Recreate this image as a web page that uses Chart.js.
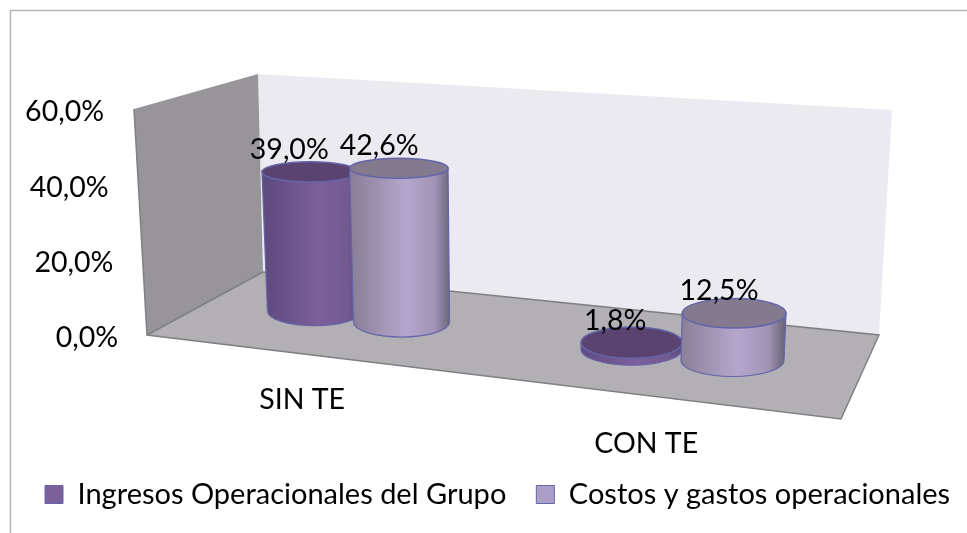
<!DOCTYPE html>
<html>
<head>
<meta charset="utf-8">
<style>
  html, body { margin: 0; padding: 0; background: #fff; }
  canvas { display: block; }
</style>
<script src="https://cdn.jsdelivr.net/npm/chart.js@4/dist/chart.umd.js"></script>
</head>
<body>
<canvas id="chart" width="967" height="533"></canvas>
<script>
const categories = ['SIN TE', 'CON TE'];
const seriesNames = ['Ingresos Operacionales del Grupo', 'Costos y gastos operacionales'];
const ingresos = [39.0, 1.8];
const costos = [42.6, 12.5];
const tickValues = [0, 20, 40, 60];

const FONT = 'Lato, Carlito, Calibri, sans-serif';

// top, side and stroke colours of each cylinder
const looks = [
  { top: '#5a4370', edge: '#5f4b80', mid: '#7d5f9c', near: '#725990', end: '#5e4a7c', line: '#6464a8' },
  { top: '#847a90', edge: '#8b8099', mid: '#b5a7cc', near: '#a093b5', end: '#6d6679', line: '#6464a8' },
];

const fmt = (v) => v.toFixed(1).replace('.', ',') + '%';

// the fake 3D view: the floor tilts down to the right, verticals lean away from the centre
const floorShift = (x) => (x - 539) * 0.118;
const heightScale = (x) => 0.91 + 0.00012 * x;
const lean = (x, h) => h * (x - 513) * 0.000158;
const widthScale = (x) => 0.97 + 0.00022 * (x - 310);
const ellipseRy = (y) => 10 + (y - 170) * 0.033;
// the two series drift apart a little towards the right side of the floor
const seriesDrift = (x, d) => (d === 0 ? -1 : 1) * (x - 495) * 0.0215;

function poly(ctx, pts, fill) {
  ctx.beginPath();
  pts.forEach((p, i) => (i ? ctx.lineTo(p[0], p[1]) : ctx.moveTo(p[0], p[1])));
  ctx.closePath();
  ctx.fillStyle = fill;
  ctx.fill();
}

function drawRoom(ctx) {
  // chart frame, only top and left are visible
  ctx.strokeStyle = '#b4b4b4';
  ctx.lineWidth = 1.5;
  ctx.beginPath();
  ctx.moveTo(10.5, 533);
  ctx.lineTo(10.5, 10.5);
  ctx.lineTo(967, 10.5);
  ctx.stroke();

  poly(ctx, [[258, 74], [892, 110], [879, 335], [263, 272]], '#eceaf1');
  poly(ctx, [[134, 109], [258, 74], [263, 272], [147, 335]], '#979599');
  poly(ctx, [[147, 335], [263, 272], [879, 335], [841, 419]], '#b3b0b5');

  ctx.strokeStyle = '#808080';
  ctx.lineWidth = 1.5;
  ctx.beginPath();
  ctx.moveTo(134, 109);
  ctx.lineTo(147, 335);
  ctx.lineTo(841, 419);
  ctx.lineTo(879, 335);
  ctx.lineTo(263, 272);
  ctx.moveTo(147, 335);
  ctx.lineTo(263, 272);
  ctx.stroke();
}

function drawCylinder(ctx, el, y0, look, d) {
  const half = (el.width * widthScale(el.x)) / 2;
  const cx = el.x + seriesDrift(el.x, d);
  const baseY = y0 + floorShift(el.x);
  const h = (el.base - el.y) * heightScale(el.x);
  const topY = baseY - h;
  const baseL = cx - half;
  const baseR = cx + half;
  const topL = baseL + lean(baseL, h);
  const topR = baseR + lean(baseR, h);
  const topX = (topL + topR) / 2;
  const topHalf = (topR - topL) / 2;
  const ryTop = ellipseRy(topY);
  const ryBase = ellipseRy(baseY);

  const grad = ctx.createLinearGradient(baseL, 0, baseR, 0);
  grad.addColorStop(0, look.edge);
  grad.addColorStop(0.55, look.mid);
  grad.addColorStop(0.85, look.near);
  grad.addColorStop(1, look.end);

  ctx.beginPath();
  ctx.moveTo(topL, topY);
  ctx.lineTo(baseL, baseY);
  ctx.ellipse(cx, baseY, half, ryBase, 0, Math.PI, 0, true);
  ctx.lineTo(topR, topY);
  ctx.closePath();
  ctx.fillStyle = grad;
  ctx.fill();
  ctx.strokeStyle = look.line;
  ctx.lineWidth = 1.2;
  ctx.stroke();

  ctx.beginPath();
  ctx.ellipse(topX, topY, topHalf, ryTop, 0, 0, Math.PI * 2);
  ctx.fillStyle = look.top;
  ctx.fill();
  ctx.lineWidth = 1.5;
  ctx.stroke();

  return { x: topX, y: topY };
}

const view3d = {
  id: 'view3d',
  afterLayout(chart) {
    // legend sits under the whole picture, not under the plot
    chart.legend.left = 15;
    chart.legend.right = 1100;
    chart.legend.top = 450;
  },
  beforeDatasetsDraw(chart) {
    const ctx = chart.ctx;
    const yScale = chart.scales.y;
    const xScale = chart.scales.x;
    const y0 = yScale.getPixelForValue(0);

    ctx.save();
    drawRoom(ctx);

    const tops = [];
    chart.data.datasets.forEach((ds, d) => {
      chart.getDatasetMeta(d).data.forEach((el, i) => {
        tops.push({ pos: drawCylinder(ctx, el, y0, looks[d], d), text: fmt(ds.data[i]) });
      });
    });

    ctx.fillStyle = '#000';
    ctx.font = '28.5px ' + FONT;
    ctx.textBaseline = 'middle';

    ctx.textAlign = 'center';
    tops.forEach((t) => ctx.fillText(t.text, t.pos.x - 25 + t.pos.x * 0.0135, t.pos.y - 22));

    // axis labels follow the front edges of the room
    ctx.textAlign = 'right';
    yScale.ticks.forEach((tick, i) => {
      ctx.fillText(tick.label, 118 - tick.value * 0.233, yScale.getPixelForTick(i));
    });
    ctx.textAlign = 'center';
    categories.forEach((c, i) => {
      const x = xScale.getPixelForTick(i) * 1.062 - 77;
      ctx.fillText(c, x, 335 + (x - 147) * 0.127 + 45);
    });
    ctx.restore();
    return false;
  },
};

new Chart(document.getElementById('chart'), {
  type: 'bar',
  plugins: [view3d],
  data: {
    labels: categories,
    datasets: [
      { label: seriesNames[0], data: ingresos, backgroundColor: '#7c5f9b', borderColor: '#6464a8', borderWidth: 1 },
      { label: seriesNames[1], data: costos, backgroundColor: '#aa9fc6', borderColor: '#6464a8', borderWidth: 1 },
    ],
  },
  options: {
    responsive: false,
    animation: false,
    categoryPercentage: 0.574,
    barPercentage: 1.043,
    layout: { padding: { top: 112, right: 0, left: 0, bottom: 0 } },
    plugins: {
      tooltip: { enabled: false },
      legend: {
        position: 'bottom',
        align: 'start',
        labels: {
          boxWidth: 18,
          boxHeight: 18,
          padding: 30,
          color: '#000',
          font: { family: FONT, size: 29 },
        },
      },
    },
    scales: {
      x: {
        grid: { display: false },
        border: { display: false },
        ticks: { display: false },
        afterFit: (scale) => { scale.height = 126; },
      },
      y: {
        min: 0,
        max: 60,
        afterBuildTicks: (scale) => { scale.ticks = tickValues.map((value) => ({ value })); },
        grid: { display: false },
        border: { display: false },
        ticks: { display: false, callback: (v) => fmt(v) },
        afterFit: (scale) => { scale.width = 195; },
      },
      // empty axis, only keeps the plot clear of the right side
      rightGap: {
        axis: 'y',
        position: 'right',
        grid: { display: false },
        border: { display: false },
        ticks: { display: false },
        afterFit: (scale) => { scale.width = 124; },
      },
    },
  },
});
</script>
</body>
</html>
